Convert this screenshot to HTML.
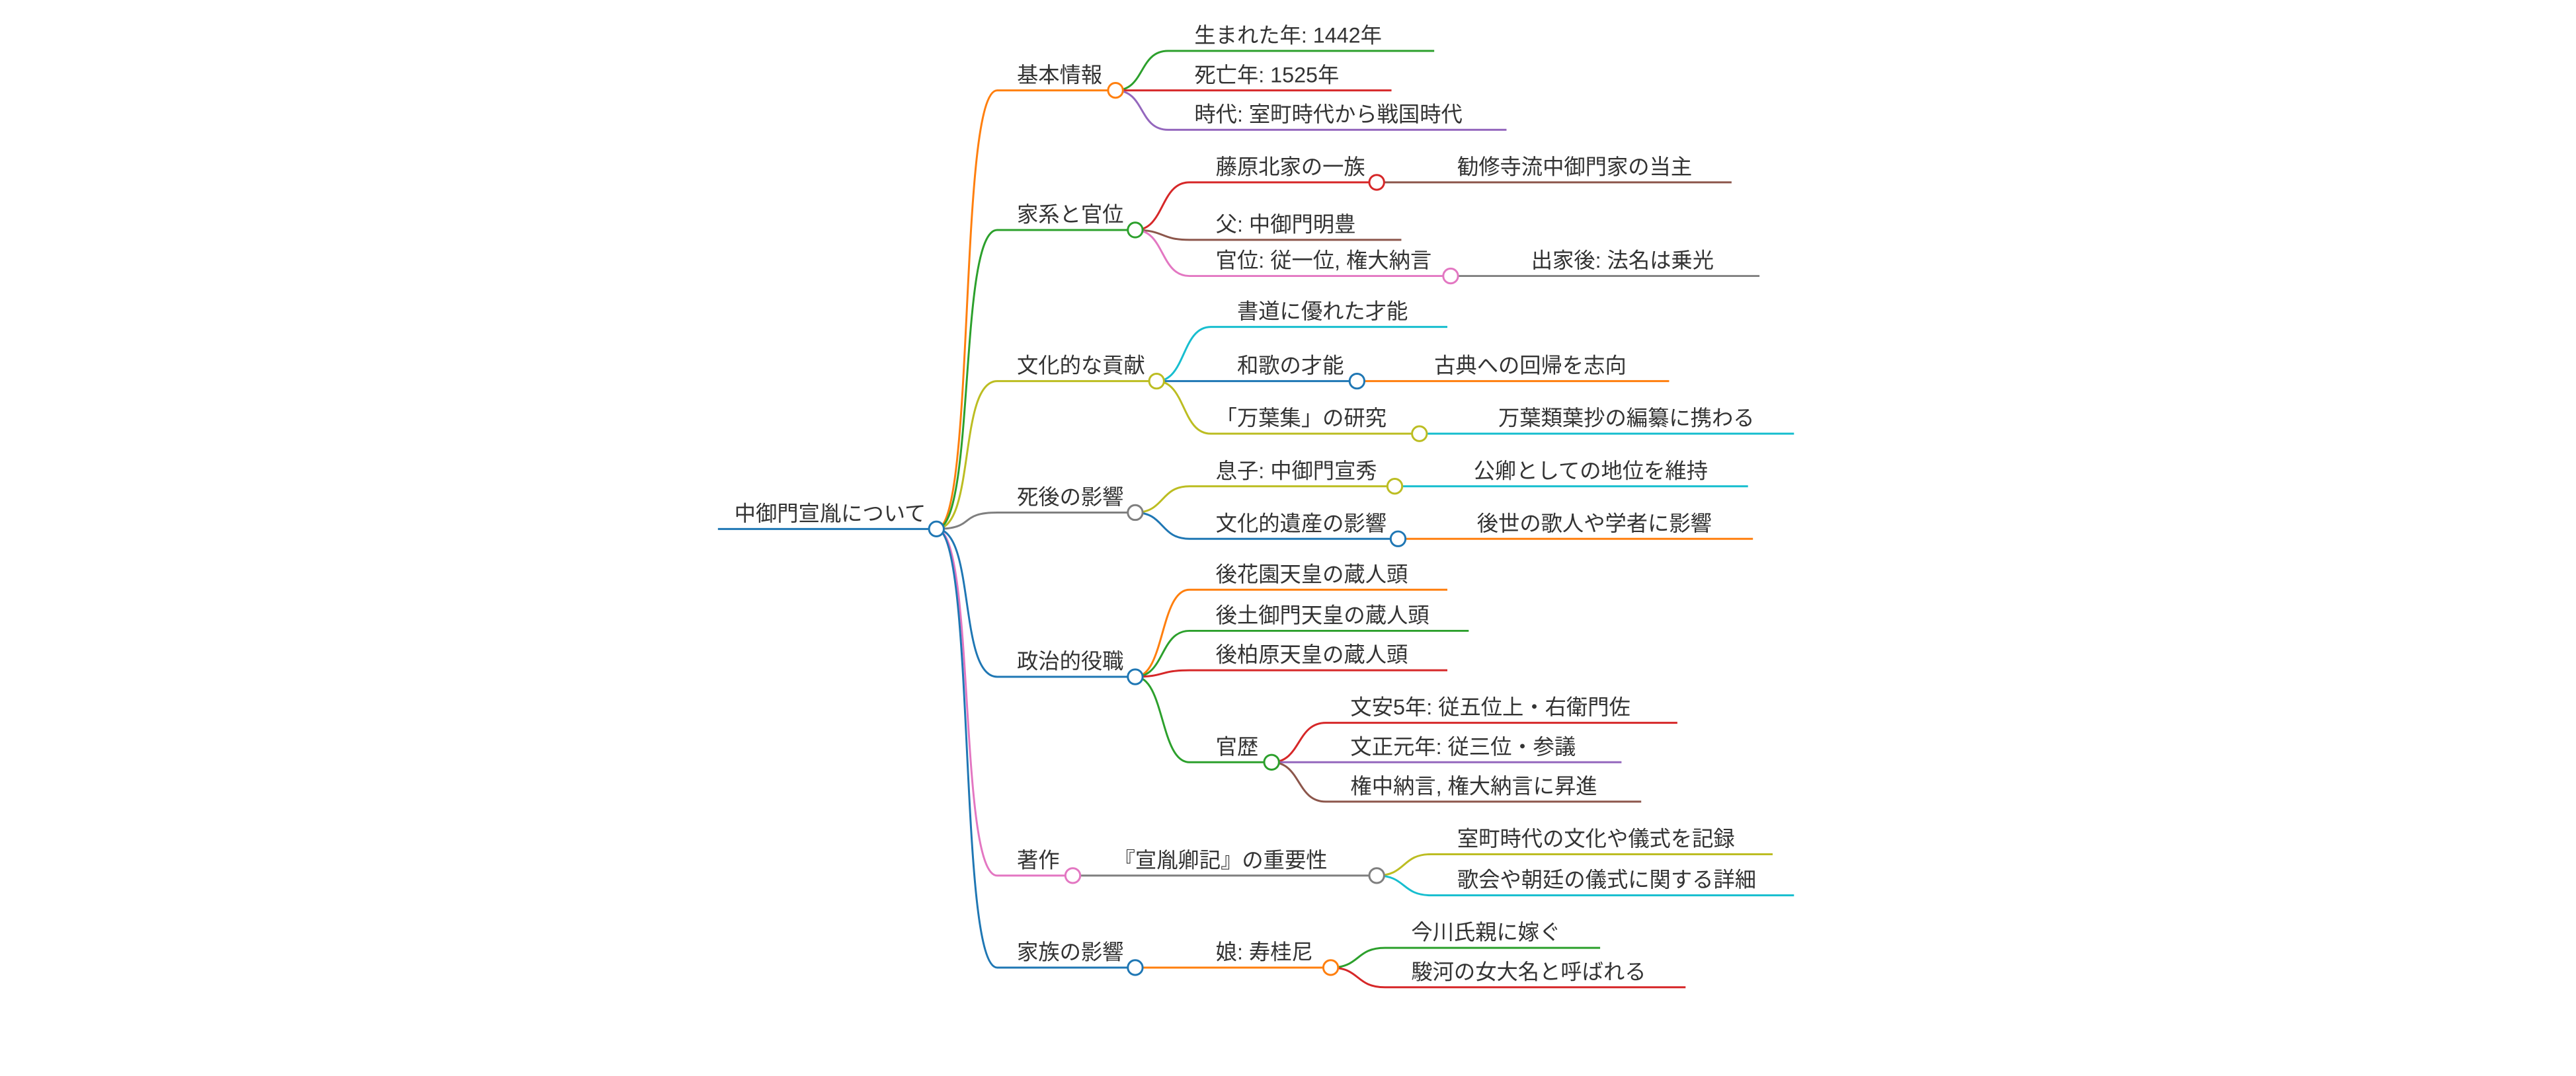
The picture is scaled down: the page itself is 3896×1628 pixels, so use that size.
<!DOCTYPE html>
<html><head><meta charset="utf-8"><style>
html,body{margin:0;padding:0;background:#fff;}
svg{display:block;}
text{font-family:"Liberation Sans","Noto Sans CJK JP",sans-serif;font-size:13px;fill:#333;}
path{fill:none;stroke-width:1.2;}
circle{fill:#fff;stroke-width:1.2;}
</style></head><body>
<svg width="3896" height="1628" viewBox="0 0 1568 655" preserveAspectRatio="none" xmlns="http://www.w3.org/2000/svg">
<!-- level1 edges -->
<path d="M437,322 H570" stroke="#1f77b4"/>
<path d="M570,322 C594,322 583,55 607,55 H679" stroke="#ff7f0e"/>
<path d="M570,322 C594,322 583,140 607,140 H691" stroke="#2ca02c"/>
<path d="M570,322 C594,322 583,232 607,232 H704" stroke="#bcbd22"/>
<path d="M570,322 C594,322 583,312 607,312 H691" stroke="#7f7f7f"/>
<path d="M570,322 C594,322 583,412 607,412 H691" stroke="#1f77b4"/>
<path d="M570,322 C594,322 583,533 607,533 H653" stroke="#e377c2"/>
<path d="M570,322 C594,322 583,589 607,589 H691" stroke="#1f77b4"/>
<!-- 基本情報 -->
<path d="M679,55 C697,55 693,31 711,31 H873" stroke="#2ca02c"/>
<path d="M679,55 H847" stroke="#d62728"/>
<path d="M679,55 C697,55 693,79 711,79 H917" stroke="#9467bd"/>
<!-- 家系と官位 -->
<path d="M691,140 C709,140 706,111 724,111 H838" stroke="#d62728"/>
<path d="M838,111 H1054" stroke="#8c564b"/>
<path d="M691,140 C709,140 706,146 724,146 H853" stroke="#8c564b"/>
<path d="M691,140 C709,140 706,168 724,168 H883" stroke="#e377c2"/>
<path d="M883,168 H1071" stroke="#7f7f7f"/>
<!-- 文化 -->
<path d="M704,232 C722,232 719,199 737,199 H881" stroke="#17becf"/>
<path d="M704,232 H826" stroke="#1f77b4"/>
<path d="M826,232 H1016" stroke="#ff7f0e"/>
<path d="M704,232 C722,232 719,264 737,264 H864" stroke="#bcbd22"/>
<path d="M864,264 H1092" stroke="#17becf"/>
<!-- 死後 -->
<path d="M691,312 C709,312 706,296 724,296 H849" stroke="#bcbd22"/>
<path d="M849,296 H1064" stroke="#17becf"/>
<path d="M691,312 C709,312 706,328 724,328 H851" stroke="#1f77b4"/>
<path d="M851,328 H1067" stroke="#ff7f0e"/>
<!-- 政治 -->
<path d="M691,412 C709,412 706,359 724,359 H881" stroke="#ff7f0e"/>
<path d="M691,412 C709,412 706,384 724,384 H894" stroke="#2ca02c"/>
<path d="M691,412 C709,412 706,408 724,408 H881" stroke="#d62728"/>
<path d="M691,412 C709,412 706,464 724,464 H774" stroke="#2ca02c"/>
<path d="M774,464 C792,464 789,440 807,440 H1021" stroke="#d62728"/>
<path d="M774,464 H987" stroke="#9467bd"/>
<path d="M774,464 C792,464 789,488 807,488 H999" stroke="#8c564b"/>
<!-- 著作 -->
<path d="M653,533 H838" stroke="#7f7f7f"/>
<path d="M838,533 C856,533 853,520 871,520 H1079" stroke="#bcbd22"/>
<path d="M838,533 C856,533 853,545 871,545 H1092" stroke="#17becf"/>
<!-- 家族 -->
<path d="M691,589 H810" stroke="#ff7f0e"/>
<path d="M810,589 C828,589 825,577 843,577 H974" stroke="#2ca02c"/>
<path d="M810,589 C828,589 825,601 843,601 H1026" stroke="#d62728"/>
<!-- circles -->
<circle cx="570" cy="322" r="4.5" stroke="#1f77b4"/>
<circle cx="679" cy="55" r="4.5" stroke="#ff7f0e"/>
<circle cx="691" cy="140" r="4.5" stroke="#2ca02c"/>
<circle cx="704" cy="232" r="4.5" stroke="#bcbd22"/>
<circle cx="691" cy="312" r="4.5" stroke="#7f7f7f"/>
<circle cx="691" cy="412" r="4.5" stroke="#1f77b4"/>
<circle cx="653" cy="533" r="4.5" stroke="#e377c2"/>
<circle cx="691" cy="589" r="4.5" stroke="#1f77b4"/>
<circle cx="838" cy="111" r="4.5" stroke="#d62728"/>
<circle cx="883" cy="168" r="4.5" stroke="#e377c2"/>
<circle cx="826" cy="232" r="4.5" stroke="#1f77b4"/>
<circle cx="864" cy="264" r="4.5" stroke="#bcbd22"/>
<circle cx="849" cy="296" r="4.5" stroke="#bcbd22"/>
<circle cx="851" cy="328" r="4.5" stroke="#1f77b4"/>
<circle cx="774" cy="464" r="4.5" stroke="#2ca02c"/>
<circle cx="838" cy="533" r="4.5" stroke="#7f7f7f"/>
<circle cx="810" cy="589" r="4.5" stroke="#ff7f0e"/>
<!-- texts -->
<text x="447" y="317">中御門宣胤について</text>
<text x="619" y="50">基本情報</text>
<text x="619" y="135">家系と官位</text>
<text x="619" y="227">文化的な貢献</text>
<text x="619" y="307">死後の影響</text>
<text x="619" y="407">政治的役職</text>
<text x="619" y="528">著作</text>
<text x="619" y="584">家族の影響</text>
<text x="727" y="26">生まれた年: 1442年</text>
<text x="727" y="50">死亡年: 1525年</text>
<text x="727" y="74">時代: 室町時代から戦国時代</text>
<text x="740" y="106">藤原北家の一族</text>
<text x="887" y="106">勧修寺流中御門家の当主</text>
<text x="740" y="141">父: 中御門明豊</text>
<text x="740" y="163">官位: 従一位, 権大納言</text>
<text x="932" y="163">出家後: 法名は乗光</text>
<text x="753" y="194">書道に優れた才能</text>
<text x="753" y="227">和歌の才能</text>
<text x="873" y="227">古典への回帰を志向</text>
<text x="740" y="259">「万葉集」の研究</text>
<text x="912" y="259">万葉類葉抄の編纂に携わる</text>
<text x="740" y="291">息子: 中御門宣秀</text>
<text x="897" y="291">公卿としての地位を維持</text>
<text x="740" y="323">文化的遺産の影響</text>
<text x="899" y="323">後世の歌人や学者に影響</text>
<text x="740" y="354">後花園天皇の蔵人頭</text>
<text x="740" y="379">後土御門天皇の蔵人頭</text>
<text x="740" y="403">後柏原天皇の蔵人頭</text>
<text x="740" y="459">官歴</text>
<text x="822" y="435">文安5年: 従五位上・右衛門佐</text>
<text x="822" y="459">文正元年: 従三位・参議</text>
<text x="822" y="483">権中納言, 権大納言に昇進</text>
<text x="678" y="528">『宣胤卿記』の重要性</text>
<text x="887" y="515">室町時代の文化や儀式を記録</text>
<text x="887" y="540">歌会や朝廷の儀式に関する詳細</text>
<text x="740" y="584">娘: 寿桂尼</text>
<text x="859" y="572">今川氏親に嫁ぐ</text>
<text x="859" y="596">駿河の女大名と呼ばれる</text>
</svg>
</body></html>
